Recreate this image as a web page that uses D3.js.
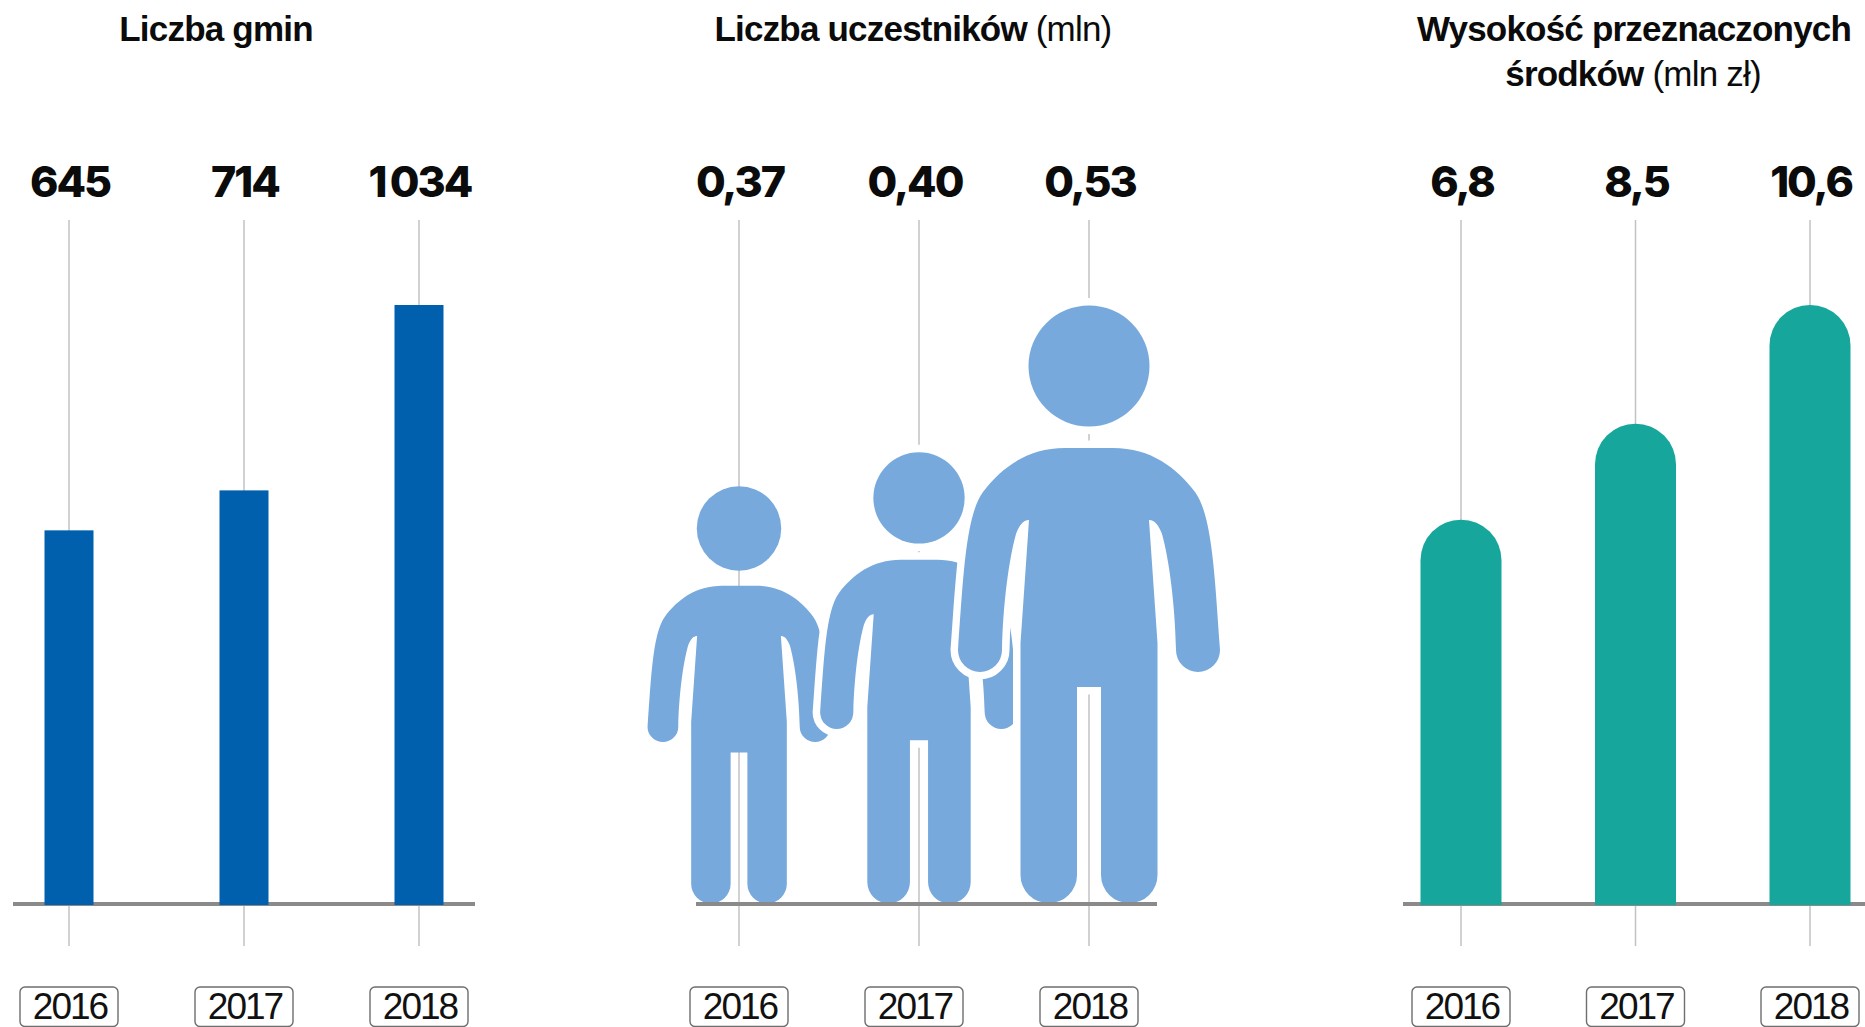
<!DOCTYPE html>
<html>
<head>
<meta charset="utf-8">
<script src="https://cdn.jsdelivr.net/npm/d3@7"></script>
<style>
    html, body { margin: 0; padding: 0; background: #fff; overflow: hidden; }
    svg { display: block; }
    .title { font-family: "Liberation Sans", sans-serif; font-size: 35px; font-weight: 700; text-anchor: middle; letter-spacing: -0.8px; fill: #0b0b0b; }
    .title .light { font-weight: 400; }
    .value { font-family: "Inter", sans-serif; font-size: 43px; font-weight: 800; text-anchor: middle; letter-spacing: -2px; fill: #0b0b0b; }
    .year { font-family: "Liberation Sans", sans-serif; font-size: 37px; text-anchor: middle; letter-spacing: -2px; fill: #111; }
</style>
</head>
<body>
<div id="chart"></div>
<script>
// data
const years = ["2016", "2017", "2018"];
const gminy = [645, 714, 1034];
const uczestnicy = [0.37, 0.40, 0.53];
const srodki = [6.8, 8.5, 10.6];

const gminyLabels = ["645", "714", "1\u2009034"];
const uczestnicyLabels = ["0,37", "0,40", "0,53"];
const srodkiLabels = ["6,8", "8,5", "10,6"];

const width = 1865, height = 1027;
const baseY = 904, topY = 305;
const leaderTop = 220, leaderBottom = 946;

const svg = d3.select("#chart").append("svg")
    .attr("width", width)
    .attr("height", height);

// person glyph, drawn at the size of the tallest figure, feet at 0
const personHeight = 598;
const personPath = "M-24 -456 L24 -456 C62 -456 88 -436 106 -412 C124 -388 126 -320 131 -254 " +
    "A22 22 0 0 1 87 -254 C86 -300 80 -345 73 -370 C70 -378 66 -384 60 -384 " +
    "L68.5 -261 L68.5 -29 A28.25 28.25 0 0 1 12 -29 L12 -217 L-12 -217 L-12 -29 A28.25 28.25 0 0 1 -68.5 -29 L-68.5 -261 " +
    "L-60 -384 C-66 -384 -70 -378 -73 -370 C-80 -345 -86 -300 -87 -254 A22 22 0 0 1 -131 -254 " +
    "C-126 -320 -124 -388 -106 -412 C-88 -436 -62 -456 -24 -456 Z";

function drawFrame(group, x, leaderX, labels) {
    // thin lines running from the value down past the axis
    group.selectAll(".leader")
        .data(years)
        .enter().append("line")
        .attr("class", "leader")
        .attr("x1", d => leaderX(d))
        .attr("x2", d => leaderX(d))
        .attr("y1", leaderTop)
        .attr("y2", leaderBottom)
        .attr("stroke", "#c2c2c2")
        .attr("stroke-width", 1.5);

    group.selectAll(".value")
        .data(years)
        .enter().append("text")
        .attr("class", "value")
        .attr("x", d => x(d) + 1)
        .attr("y", 197)
        .text((d, i) => labels[i]);

    let box = group.selectAll(".year-box")
        .data(years)
        .enter().append("g")
        .attr("class", "year-box")
        .attr("transform", d => `translate(${x(d)}, 0)`);

    box.append("rect")
        .attr("x", -49)
        .attr("y", 987)
        .attr("width", 98)
        .attr("height", 39.5)
        .attr("rx", 5)
        .attr("fill", "none")
        .attr("stroke", "#6e6e6e")
        .attr("stroke-width", 1.4);

    box.append("text")
        .attr("class", "year")
        .attr("x", 1)
        .attr("y", 1019)
        .text(d => d);
}

function drawBaseline(group, axisRange) {
    group.append("line")
        .attr("x1", axisRange[0])
        .attr("x2", axisRange[1])
        .attr("y1", baseY)
        .attr("y2", baseY)
        .attr("stroke", "#8a8a8a")
        .attr("stroke-width", 4);
}

// panel 1: plain bars
let p1 = svg.append("g");
let x1 = d3.scalePoint().domain(years).range([69, 419]);
let y1 = d3.scaleLinear().domain([0, d3.max(gminy)]).range([baseY, topY]);

drawFrame(p1, x1, x1, gminyLabels);
drawBaseline(p1, [13, 475]);

p1.selectAll(".bar")
    .data(gminy)
    .enter().append("rect")
    .attr("class", "bar")
    .attr("x", (d, i) => x1(years[i]) - 24.5)
    .attr("y", d => y1(d))
    .attr("width", 49)
    .attr("height", d => baseY + 1 - y1(d))
    .attr("fill", "#0060ae");

// panel 2: people scaled to the value
let p2 = svg.append("g");
let x2 = d3.scalePoint().domain(years).range([739, 1089]);
let x2people = d3.scaleOrdinal().domain(years).range([739, 919, 1089]);
let size = d3.scaleLinear().domain([0, d3.max(uczestnicy)]).range([0, personHeight]);

drawFrame(p2, x2, x2people, uczestnicyLabels);

let people = p2.selectAll(".person")
    .data(uczestnicy)
    .enter().append("g")
    .attr("class", "person")
    .attr("transform", (d, i) => `translate(${x2people(years[i])}, ${baseY}) scale(${size(d) / personHeight})`)
    .attr("fill", "#77a9dd")
    // the first figure stands at the back, the others get a white outline
    .attr("stroke", (d, i) => i === 0 ? "none" : "#fff")
    .attr("stroke-width", 15)
    .style("paint-order", "stroke");

people.append("path")
    .attr("d", personPath)
    .attr("vector-effect", "non-scaling-stroke");

people.append("circle")
    .attr("cx", 0)
    .attr("cy", -538)
    .attr("r", 60.5)
    .attr("vector-effect", "non-scaling-stroke");

drawBaseline(p2, [696, 1157]);

// panel 3: bars with a round top
let p3 = svg.append("g");
let x3 = d3.scalePoint().domain(years).range([1461, 1810]);
let y3 = d3.scaleLinear().domain([0, d3.max(srodki)]).range([baseY, topY]);
let r3 = 40.5;

drawFrame(p3, x3, x3, srodkiLabels);
drawBaseline(p3, [1403, 1865]);

p3.selectAll(".round-bar")
    .data(srodki)
    .enter().append("path")
    .attr("class", "round-bar")
    .attr("d", (d, i) => {
        let cx = x3(years[i]);
        return `M${cx - r3} ${baseY + 1} V${y3(d) + r3} A${r3} ${r3} 0 0 1 ${cx + r3} ${y3(d) + r3} V${baseY + 1} Z`;
    })
    .attr("fill", "#17a69b");

// titles
svg.append("text").attr("class", "title")
    .attr("x", 216).attr("y", 41)
    .text("Liczba gmin");

let t2 = svg.append("text").attr("class", "title")
    .attr("x", 913).attr("y", 41);
t2.append("tspan").text("Liczba uczestników ");
t2.append("tspan").attr("class", "light").text("(mln)");

svg.append("text").attr("class", "title")
    .attr("x", 1634).attr("y", 41)
    .text("Wysokość przeznaczonych");

let t3 = svg.append("text").attr("class", "title")
    .attr("x", 1633).attr("y", 86);
t3.append("tspan").text("środków ");
t3.append("tspan").attr("class", "light").text("(mln zł)");
</script>
</body>
</html>
